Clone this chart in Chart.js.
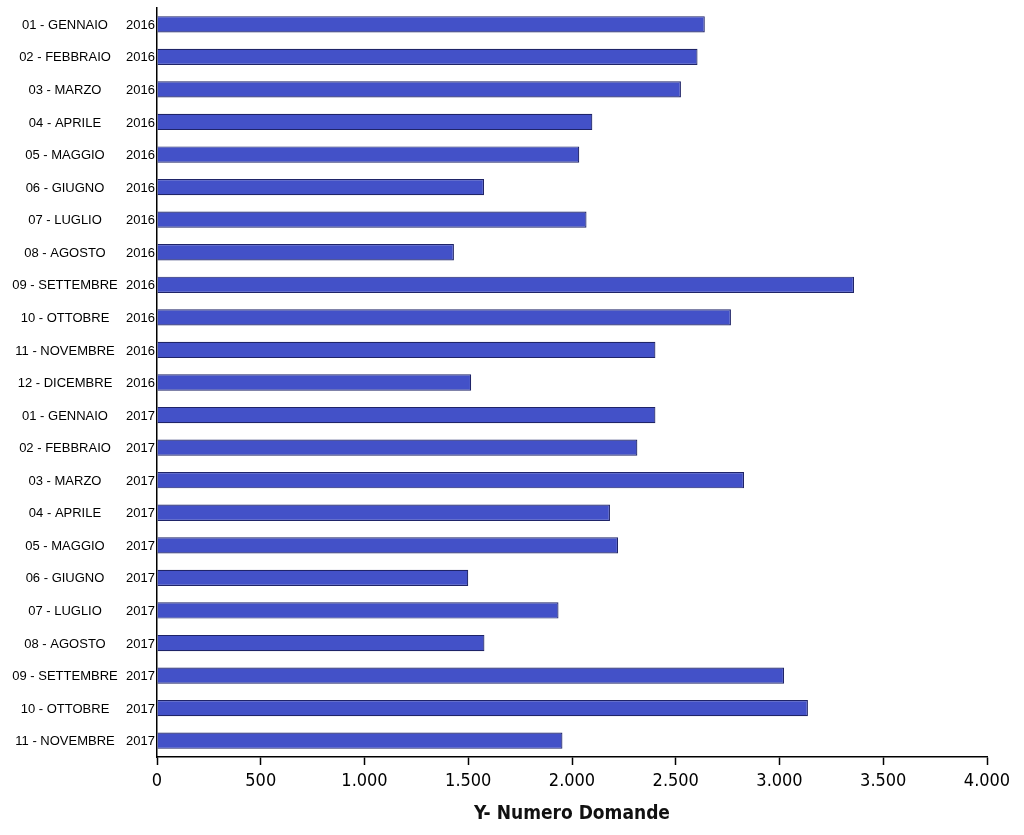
<!DOCTYPE html>
<html>
<head>
<meta charset="utf-8">
<script src="https://cdn.jsdelivr.net/npm/chart.js@4/dist/chart.umd.min.js"></script>
<style>
  body { margin: 0; background: #fff; }
  canvas { display: block; }
</style>
</head>
<body>
<canvas id="grafico" width="1024" height="835"></canvas>
<script>
// --- dati ---
const mesi = [
    '01 - GENNAIO', '02 - FEBBRAIO', '03 - MARZO', '04 - APRILE', '05 - MAGGIO', '06 - GIUGNO',
    '07 - LUGLIO', '08 - AGOSTO', '09 - SETTEMBRE', '10 - OTTOBRE', '11 - NOVEMBRE', '12 - DICEMBRE',
    '01 - GENNAIO', '02 - FEBBRAIO', '03 - MARZO', '04 - APRILE', '05 - MAGGIO', '06 - GIUGNO',
    '07 - LUGLIO', '08 - AGOSTO', '09 - SETTEMBRE', '10 - OTTOBRE', '11 - NOVEMBRE'
];
const anni = [
    '2016', '2016', '2016', '2016', '2016', '2016', '2016', '2016', '2016', '2016', '2016', '2016',
    '2017', '2017', '2017', '2017', '2017', '2017', '2017', '2017', '2017', '2017', '2017'
];
const domande = [
    2640, 2605, 2525, 2098, 2035, 1576, 2070, 1431, 3359, 2766, 2402, 1514,
    2402, 2315, 2829, 2183, 2222, 1500, 1935, 1578, 3022, 3137, 1954
];
const tickValori = [0, 500, 1000, 1500, 2000, 2500, 3000, 3500, 4000];
const titoloAsse = 'Y- Numero Domande';

// formato italiano: 1.000
function formatta(v) {
    return String(v).replace(/\B(?=(\d{3})+(?!\d))/g, '.');
}

// etichette dell'asse verticale su due colonne (mese centrato, anno a destra)
const etichetteDueColonne = {
    id: 'etichetteDueColonne',
    afterDraw(chart) {
        const ctx = chart.ctx;
        const y = chart.scales.y;
        ctx.save();
        ctx.font = '13px "Liberation Sans", Arial, sans-serif';
        ctx.fillStyle = '#000';
        ctx.textBaseline = 'middle';
        mesi.forEach((mese, i) => {
            const py = y.getPixelForValue(i) + 1;
            ctx.textAlign = 'center';
            ctx.fillText(mese, 65, py);
            ctx.textAlign = 'right';
            ctx.fillText(anni[i], y.right - 2, py);
        });
        ctx.restore();
    }
};

new Chart(document.getElementById('grafico'), {
    type: 'bar',
    data: {
        labels: mesi.map((m, i) => m + ' ' + anni[i]),
        datasets: [{
            data: domande,
            backgroundColor: '#4351c8',
            borderColor: '#1f2468',
            borderWidth: 1.2,
            categoryPercentage: 1,
            barPercentage: 0.5
        }]
    },
    options: {
        indexAxis: 'y',
        responsive: false,
        animation: false,
        layout: { padding: { top: 8, right: 37, left: 0, bottom: 0 } },
        plugins: {
            legend: { display: false },
            tooltip: { enabled: false }
        },
        scales: {
            x: {
                min: 0,
                max: 4000,
                afterBuildTicks: s => { s.ticks = tickValori.map(v => ({ value: v })); },
                afterFit: s => { s.height = 78; },
                border: { display: true, color: '#000', width: 1.5 },
                grid: { drawOnChartArea: false, drawTicks: true, tickLength: 8, tickWidth: 1.5, color: '#000' },
                ticks: {
                    padding: 6,
                    color: '#000',
                    maxRotation: 0,
                    font: { family: '"DejaVu Sans Condensed", "DejaVu Sans", sans-serif', size: 18 },
                    callback: v => formatta(v)
                },
                title: {
                    display: true,
                    text: titoloAsse,
                    color: '#111',
                    padding: { top: 0, bottom: 10 },
                    font: { family: '"DejaVu Sans Condensed", "DejaVu Sans", sans-serif', size: 19, weight: 'bold' }
                }
            },
            y: {
                afterFit: s => { s.width = 157; },
                border: { display: true, color: '#000', width: 1.5 },
                grid: { drawOnChartArea: false, drawTicks: false },
                ticks: { display: false }
            }
        }
    },
    plugins: [etichetteDueColonne]
});
</script>
</body>
</html>
